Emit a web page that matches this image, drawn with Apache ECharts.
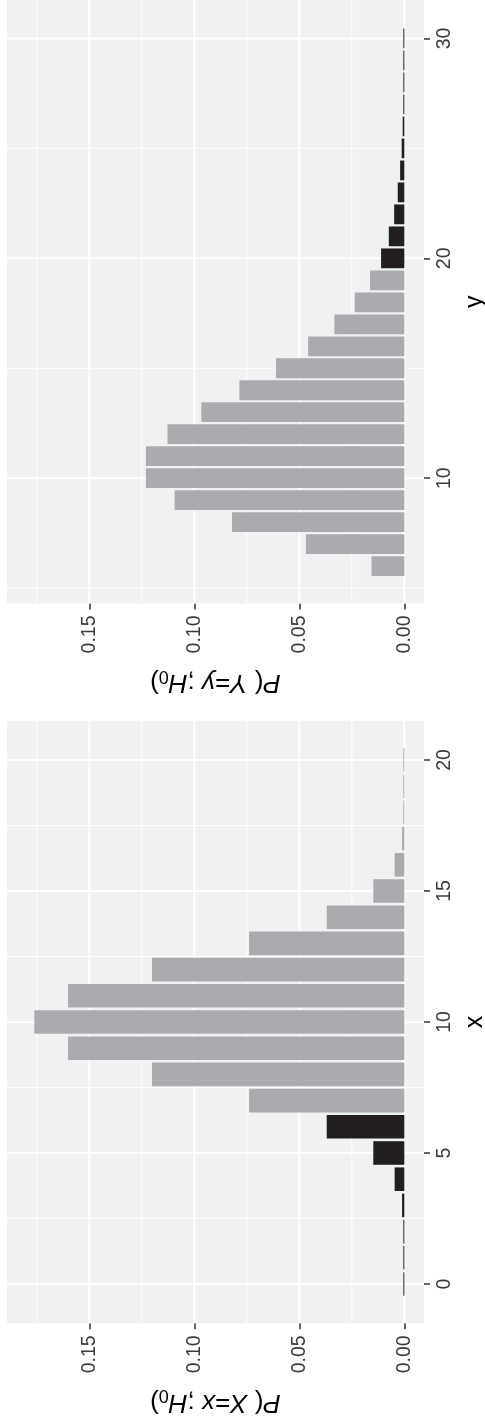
<!DOCTYPE html>
<html><head><meta charset="utf-8">
<script src="https://cdn.jsdelivr.net/npm/echarts@6/dist/echarts.min.js"></script>
<style>html,body{margin:0;padding:0;background:#fff;overflow:hidden}#c{width:485px;height:1426px}</style>
</head><body><div id="c"></div>
<script>
// ---- data ----
const xValues = [0,1,2,3,4,5,6,7,8,9,10,11,12,13,14,15,16,17,18,19,20];
const xProbs = [0.000001,0.000019,0.000181,0.001087,0.004621,0.014786,0.036964,0.073929,0.120134,0.160179,0.176197,0.160179,0.120134,0.073929,0.036964,0.014786,0.004621,0.001087,0.000181,0.000019,0.000001];
const xRejected = [1,1,1,1,1,1,1,0,0,0,0,0,0,0,0,0,0,0,0,0,0];
const yValues = [6,7,8,9,10,11,12,13,14,15,16,17,18,19,20,21,22,23,24,25,26,27,28,29,30];
const yProbs = [0.015625,0.046875,0.082031,0.109375,0.123047,0.123047,0.112793,0.096680,0.078552,0.061096,0.045822,0.033325,0.023605,0.016342,0.011089,0.007393,0.004852,0.003139,0.002006,0.001267,0.000792,0.000490,0.000301,0.000183,0.000111];
const yRejected = [0,0,0,0,0,0,0,0,0,0,0,0,0,0,1,1,1,1,1,1,1,1,1,1,1];
const probTicks = [0, 0.05, 0.10, 0.15];
const probMinor = [0.025, 0.075, 0.125, 0.175];
const xTicks = [0, 5, 10, 15, 20];
const xMinor = [2.5, 7.5, 12.5, 17.5];
const yTicks = [10, 20, 30];
const yMinor = [5, 15, 25];

// ---- styling ----
const FONT = 'Liberation Sans';
const PANEL = '#F0F1F3';
const GRAY = '#AAABAE';
const BLACK = '#231F20';

function gridData(pMajor, pMinor, vMajor, vMinor, mid){
  const d = [];
  pMajor.forEach(v => d.push([v, mid, 0, 1]));
  pMinor.forEach(v => d.push([v, mid, 0, 0]));
  vMajor.forEach(v => d.push([0, v, 1, 1]));
  vMinor.forEach(v => d.push([0, v, 1, 0]));
  return d;
}
function gridItem(params, api){
  const cs = params.coordSys;
  const orient = api.value(2), major = api.value(3);
  const pt = api.coord([api.value(0), api.value(1)]);
  const shape = orient === 0
    ? {x1: pt[0], y1: cs.y, x2: pt[0], y2: cs.y + cs.height}
    : {x1: cs.x, y1: pt[1], x2: cs.x + cs.width, y2: pt[1]};
  return {type: 'line', shape: shape, style: {stroke: '#FFFFFF', lineWidth: major ? 1.9 : 0.95}};
}
function barItem(params, api){
  const p = api.value(0), v = api.value(1), rej = api.value(2);
  const a = api.coord([0, v + 0.45]);
  const b = api.coord([p, v - 0.45]);
  let x0 = Math.min(a[0], b[0]), x1 = Math.max(a[0], b[0]);
  if (x1 - x0 < 1) x0 = x1 - 1;
  const y0 = Math.min(a[1], b[1]), h = Math.abs(a[1] - b[1]);
  return {type: 'rect', shape: {x: x0, y: y0, width: x1 - x0, height: h}, style: {fill: rej ? BLACK : GRAY}};
}
function zip3(a, b, c){ return a.map((v, i) => [b[i], v, c[i]]); }

const NAME_SIZE = 26;
const richName = {
  i: {fontStyle: 'italic', fontSize: NAME_SIZE, fontFamily: FONT, color: '#000', lineHeight: 32},
  n: {fontSize: NAME_SIZE, fontFamily: FONT, color: '#000', lineHeight: 32},
  s: {fontSize: 18, fontFamily: FONT, color: '#000', lineHeight: 32, verticalAlign: 'bottom'}
};
function pAxis(gi, name){
  return {
    gridIndex: gi, type: 'value', inverse: true, min: -0.00936, max: 0.1892, position: 'bottom',
    splitLine: {show: false}, axisLine: {show: false, onZero: false},
    axisTick: {show: true, length: 6, customValues: probTicks, lineStyle: {color: '#333', width: 1.5}},
    axisLabel: {customValues: probTicks, rotate: 90, margin: 12, fontSize: 19.5, fontFamily: FONT, color: '#3a3a3a',
      formatter: v => v.toFixed(2)},
    name: name, nameLocation: 'middle', nameRotate: 180, nameGap: 63,
    nameTextStyle: {fontSize: NAME_SIZE, fontFamily: FONT, color: '#000', rich: richName}
  };
}
function vAxis(gi, min, max, ticks, name){
  return {
    gridIndex: gi, type: 'value', min: min, max: max, position: 'right',
    splitLine: {show: false}, axisLine: {show: false, onZero: false},
    axisTick: {show: true, length: 6, customValues: ticks, lineStyle: {color: '#333', width: 1.5}},
    axisLabel: {customValues: ticks, rotate: 90, margin: 11, fontSize: 19.5, fontFamily: FONT, color: '#3a3a3a'},
    name: name, nameLocation: 'middle', nameRotate: 90, nameGap: 38,
    nameTextStyle: {fontSize: 25, fontFamily: FONT, color: '#000'}
  };
}

const chart = echarts.init(document.getElementById('c'), null, {renderer: 'canvas'});
chart.setOption({
  animation: false,
  backgroundColor: '#FFFFFF',
  grid: [
    {left: 7, top: 0, width: 417, height: 603.5, show: true, backgroundColor: PANEL, borderWidth: 0,
     containLabel: false, outerBoundsMode: 'none'},
    {left: 7, top: 720.7, width: 417, height: 602.6, show: true, backgroundColor: PANEL, borderWidth: 0,
     containLabel: false, outerBoundsMode: 'none'}
  ],
  xAxis: [
    pAxis(0, '{i|P}{n|( }{i|Y}{n|=}{i|y}{n| ;}{i|H}{s|0}{n|)}'),
    pAxis(1, '{i|P}{n|( }{i|X}{n|=}{i|x}{n| ;}{i|H}{s|0}{n|)}')
  ],
  yAxis: [
    vAxis(0, 4.3, 31.75, yTicks, 'y'),
    vAxis(1, -1.5, 21.5, xTicks, 'x')
  ],
  series: [
    {type: 'custom', xAxisIndex: 0, yAxisIndex: 0, z: 1, silent: true, renderItem: gridItem,
     data: gridData(probTicks, probMinor, yTicks, yMinor, 15), encode: {x: 0, y: 1}},
    {type: 'custom', xAxisIndex: 1, yAxisIndex: 1, z: 1, silent: true, renderItem: gridItem,
     data: gridData(probTicks, probMinor, xTicks, xMinor, 10), encode: {x: 0, y: 1}},
    {type: 'custom', xAxisIndex: 0, yAxisIndex: 0, z: 3, renderItem: barItem,
     data: zip3(yValues, yProbs, yRejected), encode: {x: 0, y: 1}},
    {type: 'custom', xAxisIndex: 1, yAxisIndex: 1, z: 3, renderItem: barItem,
     data: zip3(xValues, xProbs, xRejected), encode: {x: 0, y: 1}}
  ]
});
</script></body></html>
